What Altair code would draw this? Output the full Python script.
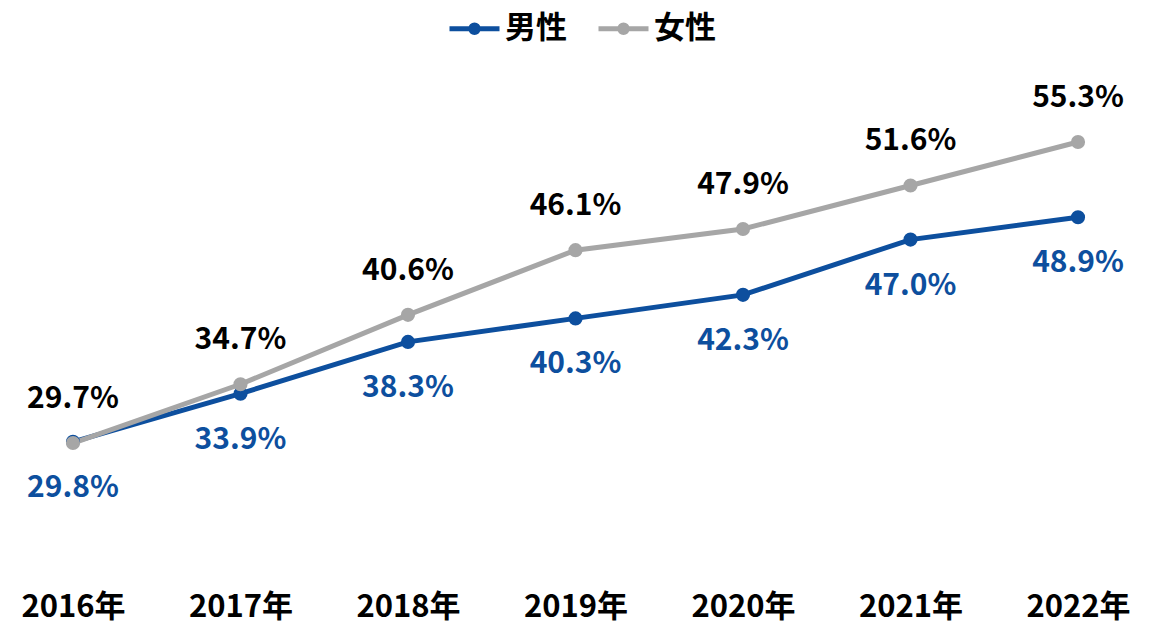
import altair as alt
import pandas as pd

years = [2016, 2017, 2018, 2019, 2020, 2021, 2022]
male = [29.8, 33.9, 38.3, 40.3, 42.3, 47.0, 48.9]
female = [29.7, 34.7, 40.6, 46.1, 47.9, 51.6, 55.3]
series = ["男性", "女性"]
colors = ["#0d4f9e", "#a6a6a6"]
label_colors = ["#0d4f9e", "#000000"]

rows = []
for s, vals in zip(series, [male, female]):
    for y, v in zip(years, vals):
        rows.append({"year": y, "value": v, "series": s, "label": f"{v:.1f}%"})
df = pd.DataFrame(rows)

FONT = "Noto Sans CJK JP"
W, H = 1135, 585

x = alt.X("year:Q", scale=alt.Scale(domain=[2015.612, 2022.388], nice=False, zero=False),
          axis=alt.Axis(values=years, labelExpr="toString(datum.value) + '年'", domain=False,
                        ticks=False, grid=False, title=None, labelFont=FONT, labelFontWeight="bold",
                        labelFontSize=31, labelColor="#000000", labelPadding=-1, labelFlush=False))
y = alt.Y("value:Q", scale=alt.Scale(domain=[16.95, 66.69], nice=False, zero=False), axis=None)

color_scale = alt.Scale(domain=series, range=colors)

legend_path = ("M-1.3889,0H1.3889 "
               "M0.0694,0A0.0694,0.0694 0 1,1 -0.0694,0A0.0694,0.0694 0 1,1 0.0694,0 "
               "M0.2083,0A0.2083,0.2083 0 1,1 -0.2083,0A0.2083,0.2083 0 1,1 0.2083,0")

legend = alt.Legend(title=None, orient="none", direction="horizontal",
                    legendX=446, legendY=0, padding=0, symbolType=legend_path,
                    symbolSize=1296, symbolStrokeWidth=5, symbolOpacity=1,
                    labelFont=FONT, labelFontWeight="bold", labelFontSize=31,
                    labelColor="#000000", columnPadding=21, labelOffset=10)

color = alt.Color("series:N", scale=color_scale, sort=series, legend=legend)

base = alt.Chart(df)

line = base.mark_line(strokeWidth=5).encode(
    x=x, y=y, color=color,
    order=alt.Order("year:Q"),
)

pts = base.mark_point(filled=True, size=200, opacity=1).encode(
    x=x, y=y, color=color,
)

fem_lab = base.transform_filter(alt.datum.series == "女性").mark_text(
    dy=-44, baseline="middle", align="center", font=FONT, fontWeight="bold",
    fontSize=30, color=label_colors[1]
).encode(x=x, y=y, text="label:N")

male_lab = base.transform_filter(alt.datum.series == "男性").mark_text(
    dy=46, baseline="middle", align="center", font=FONT, fontWeight="bold",
    fontSize=30, color=label_colors[0]
).encode(x=x, y=y, text="label:N")

chart = alt.layer(line, pts, fem_lab, male_lab).properties(
    width=W, height=H,
    autosize=alt.AutoSizeParams(type="none"),
    padding={"left": 0, "top": 0, "right": 0, "bottom": 31},
).configure_view(stroke=None)

chart.save("out.html", embed_options={"renderer": "svg", "actions": False})
